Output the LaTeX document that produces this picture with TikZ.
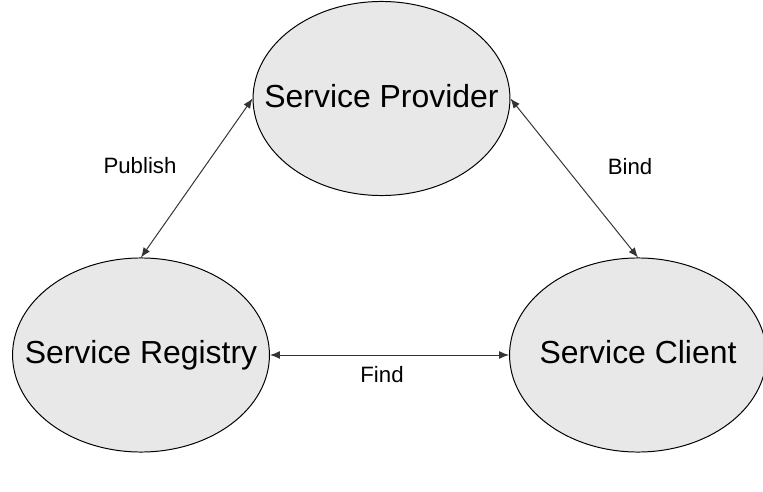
\documentclass[tikz,border=0pt]{standalone}
\usepackage{fontspec}
\setmainfont{Liberation Sans}
\usetikzlibrary{arrows.meta,shapes.geometric}
\newcommand\roletext[2][3pt]{\makebox[0pt]{\raisebox{#1}{#2}}}

\begin{document}
\begin{tikzpicture}[x=0.025cm, y=-0.025cm, line width=0.7pt,
  every node/.style={align=center},
  role/.style={ellipse, draw, fill=gray!18, inner sep=0pt, minimum width=6.42cm, minimum height=4.85cm, font=\fontsize{22.7}{27}\selectfont},
  link/.style={draw=black!80, {Latex[length=7pt,width=5.5pt]}-{Latex[length=7pt,width=5.5pt]}},
  tag/.style={font=\fontsize{15.8}{19}\selectfont}]
\useasboundingbox (0,0) rectangle (763,492);
\node[role] (provider) at (381.5,98.5) {\roletext{Service Provider}};
\node[role] (registry) at (141,355) {\roletext[0pt]{Service Registry}};
\node[role] (client) at (638,355) {\roletext[5pt]{Service Client}};
\draw[link] (provider.west) -- (registry.north);
\draw[link] (provider.east) -- (client.north);
\draw[link] (registry.east) -- (client.west);
\node[tag] (publish) at (140,166) {Publish};
\node[tag] (bind) at (630,167) {Bind};
\node[tag] (find) at (382,375) {Find};
\end{tikzpicture}
\end{document}
